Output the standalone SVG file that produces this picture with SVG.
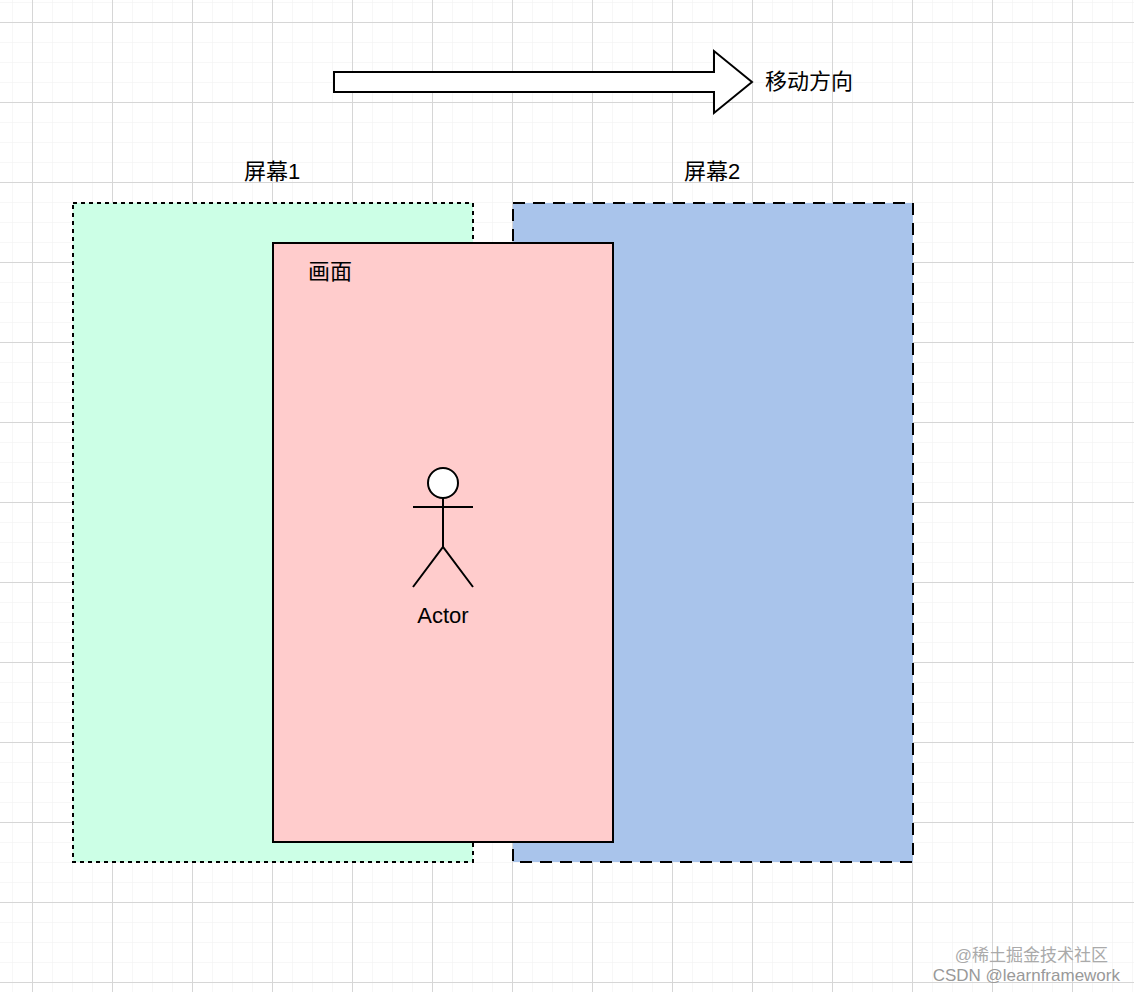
<svg xmlns="http://www.w3.org/2000/svg" width="1134" height="992" viewBox="0 0 1134 992">
<defs>
<pattern id="minor" x="12" y="2" width="20" height="20" patternUnits="userSpaceOnUse"><path d="M0 0H20M0 0V20" stroke="#f0f0f0" stroke-width="1" fill="none"/></pattern>
<pattern id="major" x="32" y="22" width="80" height="80" patternUnits="userSpaceOnUse"><path d="M0 0.5H80M0.5 0V80" stroke="#d6d6d6" stroke-width="1" fill="none"/></pattern>
</defs>
<style>
text{font-family:"Liberation Sans","Noto Sans CJK SC",sans-serif;font-size:22px;fill:#000}
.s{stroke:#000;stroke-width:2}
</style>
<rect width="1134" height="992" fill="#fff"/>
<rect width="1134" height="992" fill="url(#minor)"/>
<rect width="1134" height="992" fill="url(#major)"/>
<g id="screen1"><rect x="73" y="203" width="400" height="659" fill="#ccffe6" class="s" stroke-dasharray="4 4"/><text x="272" y="179" text-anchor="middle">屏幕1</text></g>
<g id="screen2"><rect x="513" y="203" width="400" height="659" fill="#a9c4eb" class="s" stroke-dasharray="12 8"/><text x="712" y="179" text-anchor="middle">屏幕2</text></g>
<g id="frame"><rect x="273" y="243" width="340" height="599" fill="#ffcccc" class="s"/><text x="308" y="279">画面</text></g>
<g id="actor" fill="none" class="s">
<circle cx="443" cy="483" r="15" fill="#fff"/>
<path d="M443 498V547M413 507H473M413 587L443 547L473 587"/>
<text x="443" y="623" text-anchor="middle" stroke="none" style="fill:#000">Actor</text>
</g>
<g id="connectors"><path d="M334 72H714V51L752 82L714 113V92H334Z" fill="#fff" class="s"/></g>
<g id="direction"><text x="765" y="89">移动方向</text></g>
<text x="1108" y="961" text-anchor="end" style="font-size:17px;fill:#aaa">@稀土掘金技术社区</text>
<text x="1120" y="981" text-anchor="end" style="font-size:17px;fill:#999">CSDN @learnframework</text>
</svg>
